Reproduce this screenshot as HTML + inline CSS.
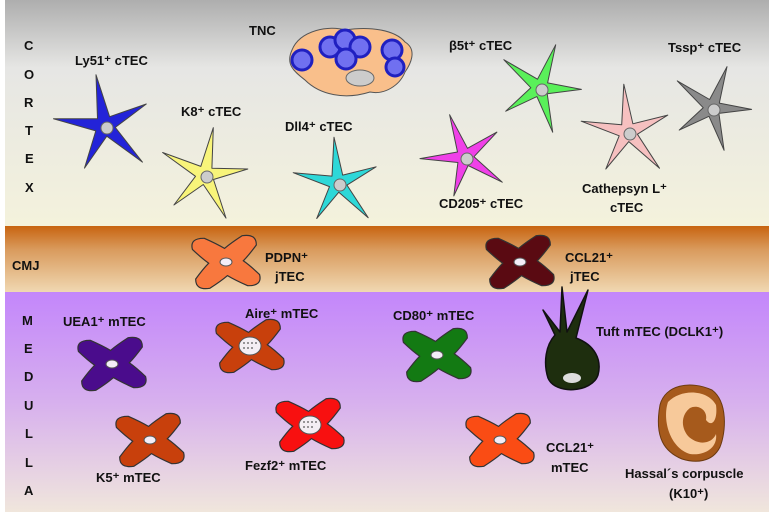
<!DOCTYPE html>
<html><head><meta charset="utf-8"><style>
html,body{margin:0;padding:0;background:#fff}
svg{display:block}
text{font-family:"Liberation Sans",sans-serif;font-weight:bold;fill:#111}
</style></head><body>
<svg id="s" width="769" height="516" viewBox="0 0 769 516" xmlns="http://www.w3.org/2000/svg">
<defs>
<linearGradient id="gc" x1="0" y1="0" x2="0" y2="1"><stop offset="0" stop-color="#aeaeae"/><stop offset="0.3" stop-color="#e6e6e4"/><stop offset="1" stop-color="#f4f2dc"/></linearGradient>
<linearGradient id="gj" x1="0" y1="0" x2="0" y2="1"><stop offset="0" stop-color="#c86410"/><stop offset="0.35" stop-color="#d99a5c"/><stop offset="1" stop-color="#f0d8b2"/></linearGradient>
<linearGradient id="gm" x1="0" y1="0" x2="0" y2="1"><stop offset="0" stop-color="#c386fb"/><stop offset="0.5" stop-color="#d7b0ee"/><stop offset="1" stop-color="#f0e6dc"/></linearGradient>
</defs>
<rect x="5" y="0" width="764" height="226" fill="url(#gc)"/>
<rect x="5" y="226" width="764" height="66" fill="url(#gj)"/>
<rect x="5" y="292" width="764" height="220" fill="url(#gm)"/>
<g id="shapes"></g>
<!-- TNC -->
<path d="M292,50 C300,30 330,25 345,30 C370,26 395,30 405,42 C418,50 410,65 405,72 C400,85 385,95 370,92 C345,100 320,95 305,80 C295,72 285,65 292,50 Z" fill="#f9bf8b" stroke="#555" stroke-width="1"/>
<ellipse cx="360" cy="78" rx="14" ry="8" fill="#ccc" stroke="#666"/>
<g fill="#7070f0" stroke="#2020c0" stroke-width="3">
<circle cx="302" cy="60" r="10"/><circle cx="330" cy="47" r="10"/><circle cx="345" cy="40" r="10"/><circle cx="360" cy="47" r="10"/><circle cx="346" cy="59" r="10"/><circle cx="392" cy="50" r="10"/><circle cx="395" cy="67" r="9"/>
</g>
<!-- Tuft -->
<path d="M555,335 L543,310 L560,332 L562,287 L567,332 L588,290 L576,338 C595,345 602,360 598,375 C592,393 555,395 548,378 C543,362 546,345 555,335 Z" fill="#1e2e0e" stroke="#111" stroke-width="1.5" stroke-linejoin="round"/>
<ellipse cx="572" cy="378" rx="9" ry="5" fill="#ddd"/>
<!-- Hassal -->
<path d="M660,405 C665,385 690,380 712,390 C728,402 726,432 720,447 C712,463 695,463 682,459 C665,452 654,438 660,405 Z" fill="#a65a1c" stroke="#6b3a10"/>
<path d="M668,402 C682,388 708,390 716,405 C718,420 712,428 706,420 C708,410 698,404 690,408 C682,414 680,426 688,436 C698,446 712,444 716,434 C718,448 704,456 690,454 C670,448 662,420 668,402 Z" fill="#f7c99a"/>
<g font-size="13">
<text x="24" y="50">C</text><text x="24" y="79">O</text><text x="24" y="107">R</text><text x="25" y="135">T</text><text x="25" y="163">E</text><text x="25" y="192">X</text>
<text x="12" y="270">CMJ</text>
<text x="22" y="325">M</text><text x="24" y="353">E</text><text x="24" y="381">D</text><text x="24" y="410">U</text><text x="25" y="438">L</text><text x="25" y="467">L</text><text x="24" y="495">A</text>
</g>
<g font-size="13">
<text x="75" y="65">Ly51⁺ cTEC</text>
<text x="249" y="35">TNC</text>
<text x="181" y="116">K8⁺ cTEC</text>
<text x="285" y="131">Dll4⁺ cTEC</text>
<text x="449" y="50">β5t⁺ cTEC</text>
<text x="668" y="52">Tssp⁺ cTEC</text>
<text x="582" y="193">Cathepsyn L⁺</text>
<text x="610" y="212">cTEC</text>
<text x="439" y="208">CD205⁺ cTEC</text>
<text x="265" y="262">PDPN⁺</text>
<text x="275" y="281">jTEC</text>
<text x="565" y="262">CCL21⁺</text>
<text x="570" y="281">jTEC</text>
<text x="63" y="326">UEA1⁺ mTEC</text>
<text x="245" y="318">Aire⁺ mTEC</text>
<text x="393" y="320">CD80⁺ mTEC</text>
<text x="596" y="336">Tuft mTEC (DCLK1⁺)</text>
<text x="96" y="482">K5⁺ mTEC</text>
<text x="245" y="470">Fezf2⁺ mTEC</text>
<text x="546" y="452">CCL21⁺</text>
<text x="551" y="472">mTEC</text>
<text x="625" y="478">Hassal´s corpuscle</text>
<text x="669" y="498">(K10⁺)</text>
</g>
</svg>
<script>
var g=document.getElementById('shapes'),NS='http://www.w3.org/2000/svg';
function el(t,a){var e=document.createElementNS(NS,t);for(var k in a)e.setAttribute(k,a[k]);g.appendChild(e);return e;}
function star(cx,cy,R,rot,col){var p=[];for(var i=0;i<5;i++){var a=(rot+i*72)*Math.PI/180,b=(rot+i*72+36)*Math.PI/180;var rr=R*(i%2?0.9:1);p.push((cx+rr*Math.sin(a)).toFixed(1)+','+(cy-rr*Math.cos(a)).toFixed(1));p.push((cx+R*0.2*Math.sin(b)).toFixed(1)+','+(cy-R*0.2*Math.cos(b)).toFixed(1));}
el('polygon',{points:p.join(' '),fill:col,stroke:'#444','stroke-width':1,'stroke-linejoin':'round'});
el('ellipse',{cx:cx+2,cy:cy+2,rx:6,ry:6,fill:'#ccc',stroke:'#666'});}
function xs(cx,cy,s,rot,col,dots){var pts=[];var sx=1.15,sy=0.9;for(var i=0;i<4;i++){var a=(rot+45+i*90)*Math.PI/180,b=(rot+90+i*90)*Math.PI/180;pts.push([a,b]);}
function P(r,a){return (cx+sx*r*Math.cos(a)).toFixed(1)+','+(cy+sy*r*Math.sin(a)).toFixed(1);}
var d='M'+P(s*0.42,pts[3][1]);
for(var i=0;i<4;i++){var a=pts[i][0],b=pts[i][1];var w=0.5;
d+=' Q'+P(s*0.6,a-w)+' '+P(s*0.9,a-w*0.5)+' Q'+P(s*1.15,a)+' '+P(s*0.9,a+w*0.5)+' Q'+P(s*0.6,a+w)+' '+P(s*0.42,b);}
el('path',{d:d+'Z',fill:col,stroke:'#333','stroke-width':1.2});
if(dots){el('ellipse',{cx:cx,cy:cy,rx:11,ry:9,fill:'#f4eef4',stroke:'#555'});for(var j=0;j<7;j++)el('circle',{cx:cx-6+(j%4)*4,cy:cy-3+Math.floor(j/4)*5,r:0.9,fill:'#555'});}
else el('ellipse',{cx:cx,cy:cy,rx:6,ry:4,fill:'#f4eef8',stroke:'#555'});}
star(105,126,52,-10,'#2323d8');
star(205,175,48,10,'#f8f47a');
star(338,183,46,-5,'#2ed8d8');
star(465,157,45,-20,'#f040e8');
star(540,88,46,20,'#5af05a');
star(628,132,48,-5,'#f6c0c0');
star(712,108,44,20,'#8a8a8a');
xs(226,262,36,-5,'#f8783e',false);
xs(520,262,36,-5,'#5a0a12',false);
xs(112,364,36,-5,'#4a0c8c',false);
xs(250,346,36,-5,'#c8400c',true);
xs(150,440,36,-5,'#c8400c',false);
xs(310,425,36,-5,'#f81010',true);
xs(437,355,36,-5,'#137a13',false);
xs(500,440,36,-5,'#fa4c14',false);
</script>
</body></html>
